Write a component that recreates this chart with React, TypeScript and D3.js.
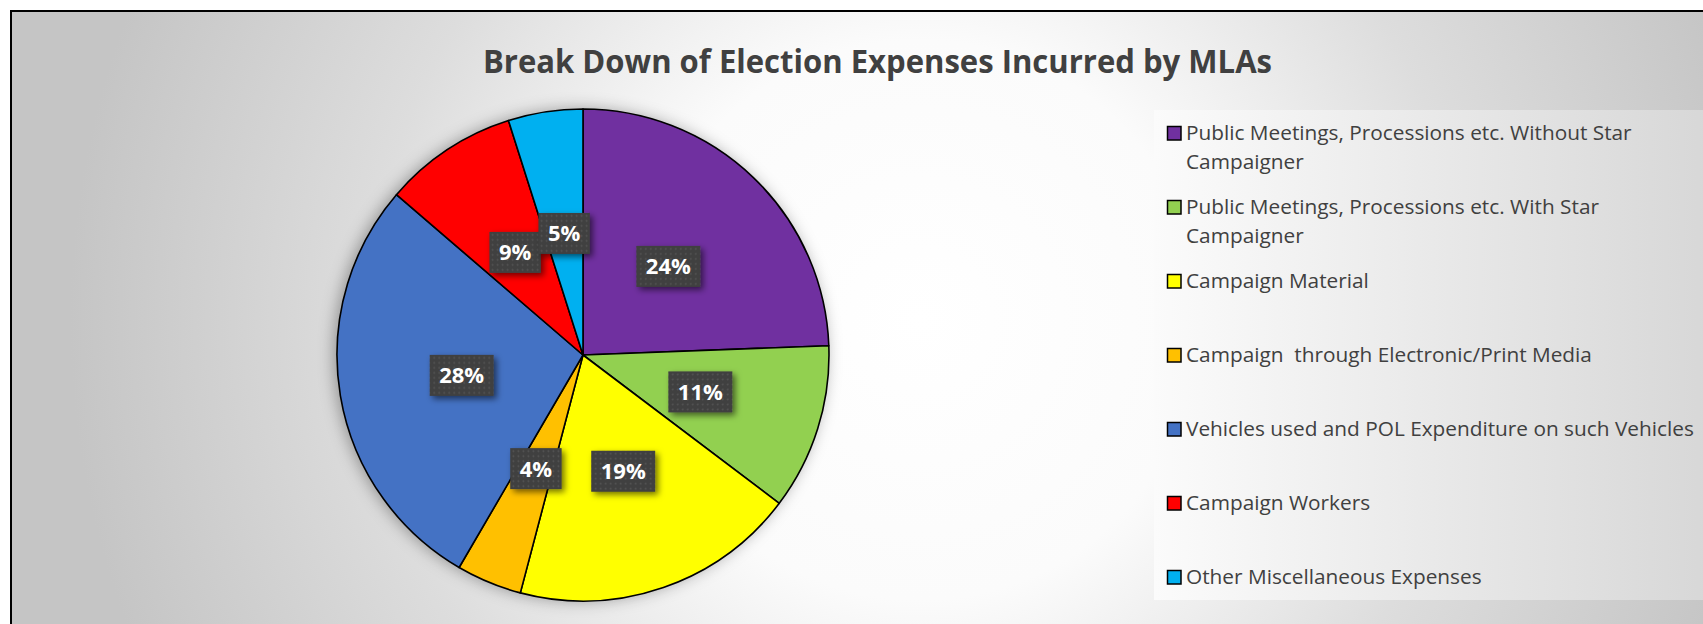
import { useRef, useEffect } from "react";
import * as d3 from "d3";

// Slice data, clockwise from 12 o'clock
const categories = [
  "Public Meetings, Processions etc. Without Star\nCampaigner",
  "Public Meetings, Processions etc. With Star\nCampaigner",
  "Campaign Material",
  "Campaign  through Electronic/Print Media",
  "Vehicles used and POL Expenditure on such Vehicles",
  "Campaign Workers",
  "Other Miscellaneous Expenses",
];
const shares = [24.4, 10.9, 18.8, 4.3, 27.9, 8.8, 4.9];
const sliceColors = [
  "#7030A0",
  "#92D050",
  "#FFFF00",
  "#FFC000",
  "#4472C4",
  "#FF0000",
  "#00B0F0",
];
const TITLE = "Break Down of Election Expenses Incurred by MLAs";

const WIDTH = 1703;
const HEIGHT = 624;
const FONT = "'Open Sans', 'DejaVu Sans', sans-serif";
const TEXT_COLOR = "#404040";

interface Slice {
  name: string;
  value: number;
  color: string;
}

export default function App() {
  const svgRef = useRef<SVGSVGElement>(null);

  useEffect(() => {
    if (!svgRef.current) return;
    const svg = d3.select(svgRef.current);
    svg.selectAll("*").remove();

    const data: Slice[] = categories.map((name, i) => ({
      name,
      value: shares[i],
      color: sliceColors[i],
    }));

    const defs = svg.append("defs");

    const bg = defs
      .append("radialGradient")
      .attr("id", "bg")
      .attr("gradientUnits", "userSpaceOnUse")
      .attr("cx", 920)
      .attr("cy", 320)
      .attr("r", 1000);
    [
      [0, "#ffffff"],
      [0.28, "#fbfbfb"],
      [0.55, "#dddddd"],
      [0.85, "#c5c5c5"],
    ].forEach(([o, c]) => bg.append("stop").attr("offset", o).attr("stop-color", c));

    const lg = defs
      .append("linearGradient")
      .attr("id", "legendBg")
      .attr("x1", 0)
      .attr("x2", 1)
      .attr("y1", 0)
      .attr("y2", 0);
    lg.append("stop").attr("offset", 0).attr("stop-color", "#fbfbfb");
    lg.append("stop").attr("offset", 1).attr("stop-color", "#d7d7d7");

    const pieShadow = defs
      .append("filter")
      .attr("id", "pieShadow")
      .attr("x", "-20%")
      .attr("y", "-20%")
      .attr("width", "140%")
      .attr("height", "140%");
    pieShadow
      .append("feDropShadow")
      .attr("dx", -3)
      .attr("dy", 0)
      .attr("stdDeviation", 8)
      .attr("flood-color", "#000")
      .attr("flood-opacity", 0.35);

    const boxShadow = defs
      .append("filter")
      .attr("id", "boxShadow")
      .attr("x", "-30%")
      .attr("y", "-30%")
      .attr("width", "170%")
      .attr("height", "170%");
    boxShadow
      .append("feDropShadow")
      .attr("dx", 3)
      .attr("dy", 3)
      .attr("stdDeviation", 3)
      .attr("flood-color", "#000")
      .attr("flood-opacity", 0.55);

    const dots = defs
      .append("pattern")
      .attr("id", "dots")
      .attr("patternUnits", "userSpaceOnUse")
      .attr("width", 5)
      .attr("height", 5);
    dots.append("rect").attr("width", 5).attr("height", 5).attr("fill", "#3f3f3f");
    dots
      .append("circle")
      .attr("cx", 2.5)
      .attr("cy", 2.5)
      .attr("r", 0.9)
      .attr("fill", "#575757");

    // Chart area
    svg.append("rect").attr("width", WIDTH).attr("height", HEIGHT).attr("fill", "#fff");
    svg
      .append("rect")
      .attr("x", 11)
      .attr("y", 11)
      .attr("width", WIDTH + 20)
      .attr("height", HEIGHT + 20)
      .attr("fill", "url(#bg)")
      .attr("stroke", "#000")
      .attr("stroke-width", 2);

    // Title
    svg
      .append("text")
      .attr("x", 877.5)
      .attr("y", 73)
      .attr("text-anchor", "middle")
      .attr("font-family", FONT)
      .attr("font-weight", 700)
      .attr("font-size", 33)
      .attr("fill", TEXT_COLOR)
      .attr("textLength", 789)
      .attr("lengthAdjust", "spacingAndGlyphs")
      .text(TITLE);

    // Pie
    const cx = 583;
    const cy = 355;
    const radius = 246;

    const pie = d3
      .pie<Slice>()
      .sort(null)
      .value((d) => d.value);
    const arcs = pie(data);
    const arc = d3.arc<d3.PieArcDatum<Slice>>().innerRadius(0).outerRadius(radius);

    const g = svg.append("g").attr("transform", `translate(${cx},${cy})`);

    g.append("circle").attr("r", radius).attr("fill", "#888").attr("filter", "url(#pieShadow)");

    g.selectAll("path.slice")
      .data(arcs)
      .join("path")
      .attr("class", "slice")
      .attr("d", arc)
      .attr("fill", (d) => d.data.color)
      .attr("stroke", "#000")
      .attr("stroke-width", 1.6)
      .attr("stroke-linejoin", "round");

    // Data labels
    const fmt = d3.format(".0f");
    const labels = g
      .selectAll("g.label")
      .data(arcs)
      .join("g")
      .attr("class", "label")
      .attr("transform", (d) => `translate(${arc.centroid(d)})`);

    labels.each(function (d) {
      const lab = d3.select(this);
      const rect = lab.append("rect").attr("fill", "url(#dots)").attr("filter", "url(#boxShadow)");
      const text = lab
        .append("text")
        .attr("text-anchor", "middle")
        .attr("y", 8)
        .attr("font-family", FONT)
        .attr("font-weight", 700)
        .attr("font-size", 22)
        .attr("fill", "#fff")
        .text(`${fmt(d.data.value)}%`);
      const w = (text.node() as SVGTextElement).getComputedTextLength() + 19;
      const h = 41;
      rect.attr("x", -w / 2).attr("y", -h / 2).attr("width", w).attr("height", h);
    });

    // Legend
    const legendX = 1154;
    const legendTop = 110;
    const legendBottom = 600;
    svg
      .append("rect")
      .attr("x", legendX)
      .attr("y", legendTop)
      .attr("width", WIDTH - legendX + 10)
      .attr("height", legendBottom - legendTop)
      .attr("fill", "url(#legendBg)");

    const rowY = d3
      .scalePoint<number>()
      .domain(d3.range(data.length))
      .range([139.5, 583.5]);

    const items = svg
      .selectAll("g.legend-item")
      .data(data)
      .join("g")
      .attr("class", "legend-item")
      .attr("transform", (_, i) => `translate(${legendX + 13},${rowY(i)})`);

    items
      .append("rect")
      .attr("x", 0.5)
      .attr("y", -13)
      .attr("width", 13.5)
      .attr("height", 13.5)
      .attr("fill", (d) => d.color)
      .attr("stroke", "#000")
      .attr("stroke-width", 1.5);

    items
      .append("text")
      .attr("font-family", FONT)
      .attr("font-size", 20.8)
      .attr("fill", TEXT_COLOR)
      .style("white-space", "pre")
      .selectAll("tspan")
      .data((d) => d.name.split("\n"))
      .join("tspan")
      .attr("x", 19)
      .attr("y", (_, j) => j * 29)
      .text((t) => t);
  }, []);

  return (
    <div style={{ position: "absolute", left: 0, top: 0 }}>
      <svg ref={svgRef} width={WIDTH} height={HEIGHT} style={{ display: "block" }} />
    </div>
  );
}
